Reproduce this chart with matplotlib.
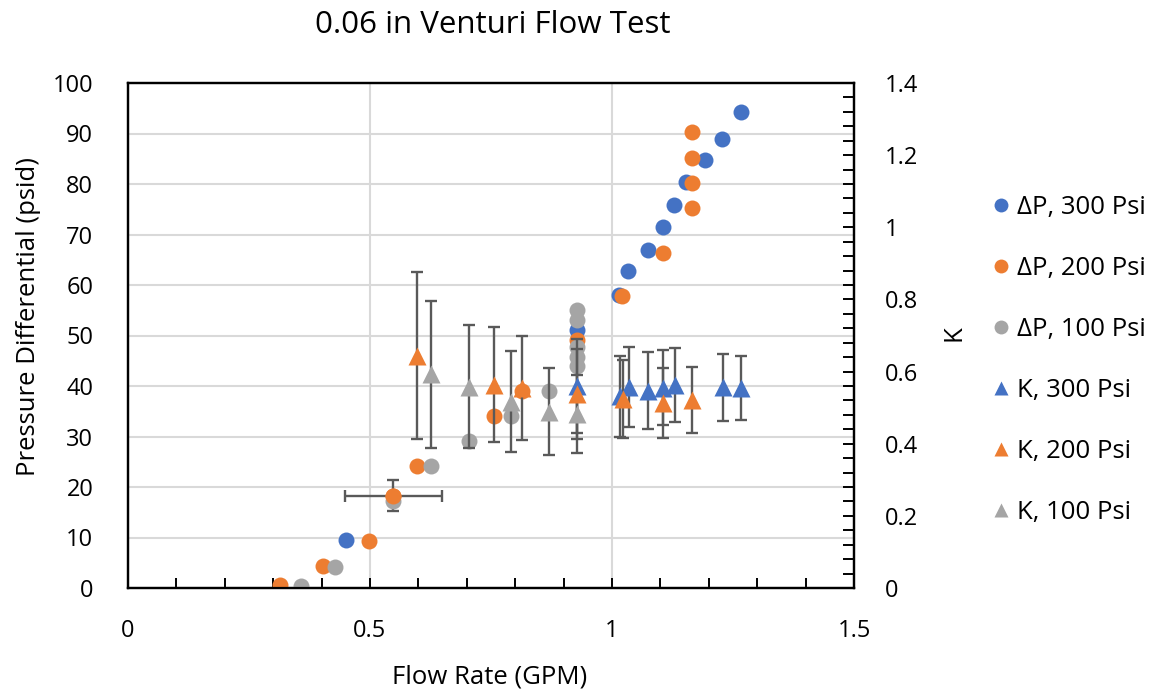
import matplotlib
matplotlib.use("Agg")
import matplotlib.pyplot as plt
from matplotlib.lines import Line2D
from matplotlib.ticker import MultipleLocator

plt.rcParams['font.family'] = ['Open Sans', 'DejaVu Sans']

# ---- data ----
dp300_x = [0.450, 0.927, 1.015, 1.034, 1.075, 1.105, 1.129, 1.153, 1.192, 1.228, 1.267]
dp300_y = [9.5, 51.0, 58.0, 62.7, 66.9, 71.4, 75.9, 80.4, 84.7, 89.0, 94.2]

dp200_x = [0.315, 0.403, 0.498, 0.548, 0.597, 0.757, 0.814, 0.927, 1.021, 1.105, 1.166, 1.166, 1.166, 1.166]
dp200_y = [0.5, 4.4, 9.4, 18.3, 24.2, 34.1, 39.1, 49.1, 57.9, 66.3, 75.2, 80.2, 85.2, 90.2]

dp100_x = [0.358, 0.427, 0.548, 0.625, 0.704, 0.791, 0.869, 0.927, 0.927, 0.927, 0.927, 0.927]
dp100_y = [0.4, 4.2, 17.3, 24.2, 29.2, 34.1, 39.1, 44.0, 45.8, 47.7, 53.0, 55.0]

# single error-bar point on the 200 Psi pressure series
dp_err_x = [0.548]
dp_err_y = [18.3]
dp_err_xe = [0.10]
dp_err_ye = [3.0]

k300_x = [0.927, 1.016, 1.036, 1.075, 1.105, 1.130, 1.229, 1.267]
k300_y = [0.561, 0.531, 0.556, 0.547, 0.555, 0.563, 0.556, 0.555]
k300_e = [0.130, 0.111, 0.111, 0.106, 0.104, 0.103, 0.093, 0.089]

k200_x = [0.597, 0.757, 0.814, 0.927, 1.022, 1.105, 1.166]
k200_y = [0.644, 0.564, 0.555, 0.538, 0.524, 0.513, 0.521]
k200_e = [0.232, 0.160, 0.145, 0.125, 0.108, 0.097, 0.092]

k100_x = [0.625, 0.704, 0.791, 0.870, 0.927]
k100_y = [0.592, 0.558, 0.517, 0.489, 0.483]
k100_e = [0.203, 0.170, 0.140, 0.120, 0.108]

labels = ['ΔP, 300 Psi', 'ΔP, 200 Psi', 'ΔP, 100 Psi', 'K, 300 Psi', 'K, 200 Psi', 'K, 100 Psi']

BLUE = '#4472C4'
ORANGE = '#ED7D31'
GRAY = '#A5A5A5'
ERR = '#595959'
GRID = '#D9D9D9'

W, H = 1155, 692
fig = plt.figure(figsize=(W / 100, H / 100), dpi=100)
L, R, B, T = 128, 854, 588, 83
ax = fig.add_axes([L / W, 1 - B / H, (R - L) / W, (B - T) / H])
ax2 = ax.twinx()

ms = 11.5
# pressure series (left axis)
ax.plot(dp300_x, dp300_y, 'o', color=BLUE, ms=ms, mec='none', zorder=3)
ax.plot(dp200_x, dp200_y, 'o', color=ORANGE, ms=ms, mec='none', zorder=3)
ax.plot(dp100_x, dp100_y, 'o', color=GRAY, ms=ms, mec='none', zorder=3)
ax.errorbar(dp_err_x, dp_err_y, xerr=dp_err_xe, yerr=dp_err_ye, fmt='none',
            ecolor=ERR, elinewidth=1.7, capsize=4.5, capthick=1.7, zorder=2)
ax.plot(dp_err_x, dp_err_y, 'o', color=ORANGE, ms=ms, mec='none', zorder=3.5)

# K series (right axis)
for xs, ys, es in [(k300_x, k300_y, k300_e),
                   (k200_x, k200_y, k200_e),
                   (k100_x, k100_y, k100_e)]:
    ax2.errorbar(xs, ys, yerr=es, fmt='none', ecolor=ERR, elinewidth=1.7,
                 capsize=4.5, capthick=1.7, zorder=2)
for xs, ys, c in [(k300_x, k300_y, BLUE), (k200_x, k200_y, ORANGE), (k100_x, k100_y, GRAY)]:
    ax2.plot(xs, ys, '^', color=c, ms=ms + 1.5, mec='none', zorder=3)

# axes formatting
ax.set_xlim(0, 1.5)
ax.set_ylim(0, 100)
ax2.set_ylim(0, 1.4)
ax.xaxis.set_major_locator(MultipleLocator(0.5))
ax.xaxis.set_minor_locator(MultipleLocator(0.1))
ax.yaxis.set_major_locator(MultipleLocator(10))
ax2.yaxis.set_major_locator(MultipleLocator(0.2))
ax2.yaxis.set_minor_locator(MultipleLocator(0.04))

ax.xaxis.set_major_formatter(plt.FuncFormatter(lambda v, p: f'{v:g}'))
ax2.yaxis.set_major_formatter(plt.FuncFormatter(lambda v, p: f'{v:g}'))

ax.grid(True, which='major', axis='both', color=GRID, lw=1.5, zorder=0)
ax.set_axisbelow(True)

fs = 17
ax.tick_params(axis='x', which='both', direction='in', length=7, width=1.4,
               labelsize=fs, pad=22, top=False)
ax.tick_params(axis='y', which='both', length=0, labelsize=fs, pad=25)
ax2.tick_params(axis='y', which='both', direction='in', length=8, width=1.4,
                labelsize=fs, pad=22)
for a in (ax, ax2):
    for s in a.spines.values():
        s.set_color('black')
        s.set_linewidth(1.6)

lfs = 18.5
ax.set_xlabel('Flow Rate (GPM)', fontsize=lfs)
ax.xaxis.set_label_coords((490 - L) / (R - L), (B - 664) / (B - T))
ax.set_ylabel('Pressure Differential (psid)', fontsize=lfs)
ax.yaxis.set_label_coords((41 - L) / (R - L), (B - 317) / (B - T))
ax2.set_ylabel('K', fontsize=lfs)
ax2.yaxis.set_label_coords((942 - L) / (R - L), (B - 333) / (B - T))

fig.text(493 / W, 1 - 25 / H, '0.06 in Venturi Flow Test', fontsize=22.5,
         ha='center', va='center')

hms = 10
handles = [Line2D([], [], ls='none', marker='o', color=BLUE, ms=hms, mec='none'),
           Line2D([], [], ls='none', marker='o', color=ORANGE, ms=hms, mec='none'),
           Line2D([], [], ls='none', marker='o', color=GRAY, ms=hms, mec='none'),
           Line2D([], [], ls='none', marker='^', color=BLUE, ms=hms, mec='none'),
           Line2D([], [], ls='none', marker='^', color=ORANGE, ms=hms, mec='none'),
           Line2D([], [], ls='none', marker='^', color=GRAY, ms=hms, mec='none')]
fig.legend(handles, labels, loc='center left', bbox_to_anchor=(993 / W, 1 - 360 / H),
           frameon=False, fontsize=lfs, handlelength=0.6, handletextpad=0.35,
           labelspacing=1.4, borderpad=0, borderaxespad=0)

fig.savefig('out.png', dpi=100)
